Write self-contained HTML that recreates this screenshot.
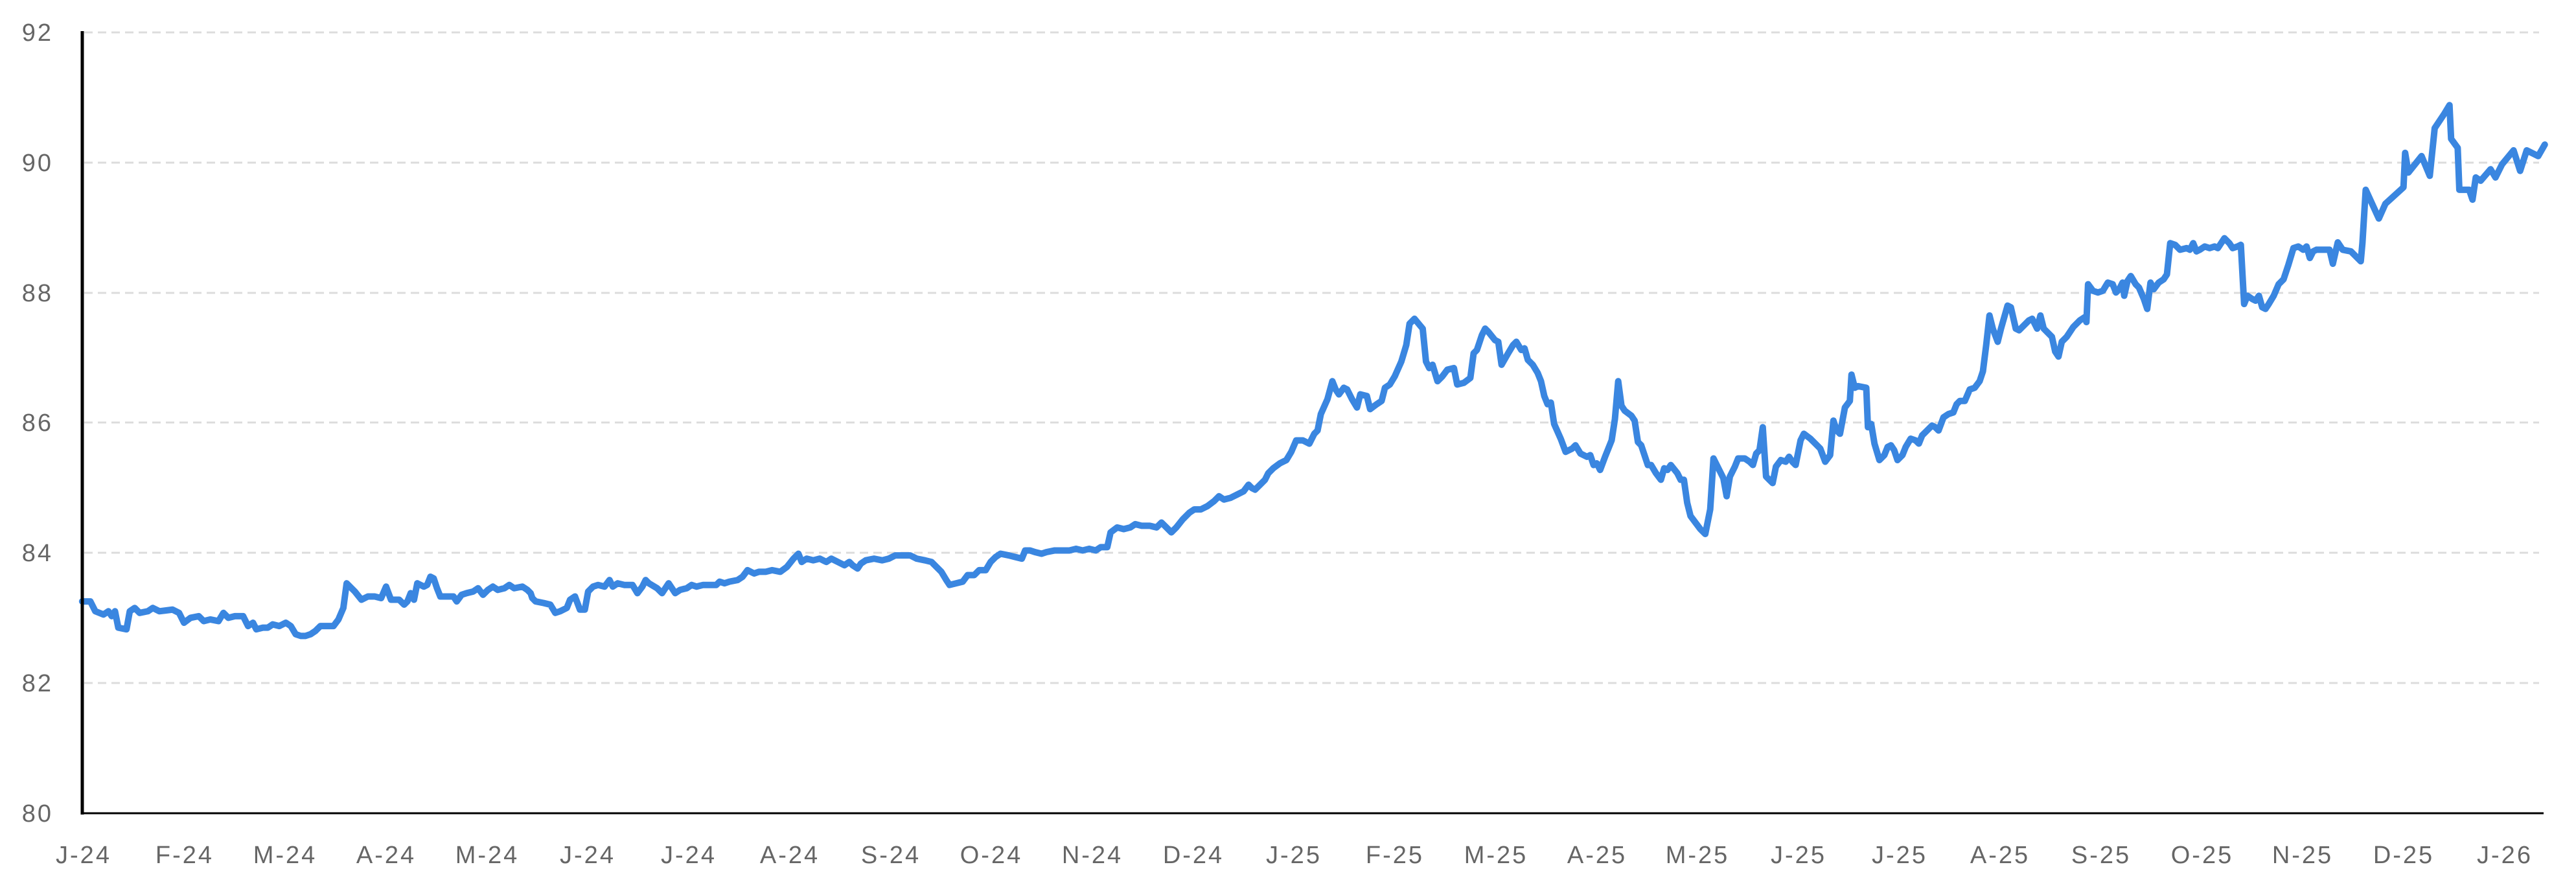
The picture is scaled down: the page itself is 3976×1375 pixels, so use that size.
<!DOCTYPE html>
<html><head><meta charset="utf-8"><style>html,body{margin:0;padding:0;background:#fff}svg{display:block}</style></head>
<body>
<svg width="3976" height="1375" viewBox="0 0 3976 1375" xmlns="http://www.w3.org/2000/svg">
<g stroke="#dcdcdc" stroke-width="3" stroke-dasharray="13 8">
<line x1="130" y1="50" x2="3919" y2="50"/>
<line x1="130" y1="251" x2="3919" y2="251"/>
<line x1="130" y1="452" x2="3919" y2="452"/>
<line x1="130" y1="652" x2="3919" y2="652"/>
<line x1="130" y1="853" x2="3919" y2="853"/>
<line x1="130" y1="1054" x2="3919" y2="1054"/>
</g>
<g font-family="Liberation Sans, sans-serif" font-size="38" fill="#666" text-anchor="end" letter-spacing="3">
<text x="82" y="63">92</text><text x="82" y="264">90</text><text x="82" y="465">88</text><text x="82" y="665">86</text><text x="82" y="866">84</text><text x="82" y="1067">82</text><text x="82" y="1268">80</text>
</g>
<g font-family="Liberation Sans, sans-serif" font-size="38" fill="#666" text-anchor="middle" letter-spacing="3">
<text x="129" y="1332">J-24</text><text x="285" y="1332">F-24</text><text x="440" y="1332">M-24</text><text x="596" y="1332">A-24</text><text x="752" y="1332">M-24</text><text x="907" y="1332">J-24</text><text x="1063" y="1332">J-24</text><text x="1219" y="1332">A-24</text><text x="1375" y="1332">S-24</text><text x="1530" y="1332">O-24</text><text x="1686" y="1332">N-24</text><text x="1842" y="1332">D-24</text><text x="1997" y="1332">J-25</text><text x="2153" y="1332">F-25</text><text x="2309" y="1332">M-25</text><text x="2465" y="1332">A-25</text><text x="2620" y="1332">M-25</text><text x="2776" y="1332">J-25</text><text x="2932" y="1332">J-25</text><text x="3087" y="1332">A-25</text><text x="3243" y="1332">S-25</text><text x="3399" y="1332">O-25</text><text x="3554" y="1332">N-25</text><text x="3710" y="1332">D-25</text><text x="3866" y="1332">J-26</text>
</g>
<g transform="scale(2.5357)">
<polyline fill="none" stroke="#3a86e0" stroke-width="10" vector-effect="non-scaling-stroke" stroke-linejoin="round" stroke-linecap="round" points="50,366 55,366 58,372 63,374 66,372 68,375 70,372 72,382 77,383 79,372 82,370 85,373 90,372 93,370 97,372 105,371 109,373 112,379 116,376 121,375 124,378 128,377 133,378 136,373 139,376 143,375 148,375 151,381 154,379 156,383 160,382 163,382 166,380 170,381 174,379 177,381 180,386 183,387 186,387 189,386 192,384 195,381 199,381 203,381 206,377 209,370 211,355 216,360 220,365 224,363 228,363 232,364 235,357 238,365 243,365 246,368 248,366 250,361 252,365 254,355 258,357 260,356 262,351 264,352 266,358 268,363 272,363 276,363 278,366 281,362 284,361 288,360 291,358 294,362 297,359 300,357 303,359 307,358 310,356 313,358 318,357 321,359 323,361 324,364 326,366 331,367 335,368 338,373 341,372 345,370 347,365 350,363 353,371 356,371 358,360 361,357 364,356 368,357 371,353 373,357 376,355 380,356 385,356 388,361 391,357 393,353 395,355 400,358 403,361 405,358 407,355 409,358 411,361 414,359 418,358 421,356 424,357 428,356 432,356 436,356 438,354 441,355 444,354 449,353 452,351 455,347 459,349 462,348 466,348 470,347 475,348 479,345 483,340 486,337 488,342 491,340 495,341 499,340 503,342 506,340 510,342 514,344 517,342 519,344 522,346 524,343 527,341 532,340 537,341 541,340 545,338 549,338 554,338 558,340 563,341 567,342 570,345 573,348 576,353 578,356 582,355 586,354 589,350 593,350 596,347 600,347 603,342 606,339 609,337 614,338 618,339 622,340 624,335 627,335 630,336 634,337 637,336 642,335 647,335 651,335 655,334 659,335 663,334 667,335 670,333 674,333 676,324 680,321 684,322 688,321 691,319 695,320 700,320 704,321 707,318 710,321 713,324 716,321 720,316 724,312 727,310 731,310 735,308 739,305 742,302 745,304 749,303 753,301 757,299 760,295 762,297 764,298 767,295 770,292 772,288 775,285 779,282 783,280 786,275 789,268 793,268 797,270 800,264 802,262 804,252 808,243 811,232 813,237 815,240 818,236 820,237 823,243 826,248 828,240 832,241 834,249 838,246 841,244 843,236 846,234 849,229 853,220 856,210 858,197 861,194 866,200 868,220 870,224 872,222 875,232 878,229 881,225 885,224 887,234 891,233 895,230 897,215 899,213 902,204 904,200 906,202 910,207 912,208 914,222 918,215 921,210 923,208 926,213 928,212 930,219 933,222 936,227 938,232 940,241 942,246 944,245 946,258 950,267 953,275 957,273 959,271 962,276 966,278 968,277 970,283 972,282 974,286 977,278 979,273 981,268 983,255 985,232 987,247 989,250 993,253 995,256 997,269 999,271 1001,277 1003,283 1005,283 1008,288 1011,292 1013,285 1015,286 1017,283 1021,288 1023,292 1025,292 1027,306 1029,314 1032,318 1035,322 1038,325 1041,310 1043,279 1046,285 1049,291 1051,302 1053,290 1056,284 1058,279 1062,279 1065,281 1067,283 1069,276 1071,274 1073,260 1075,290 1077,292 1079,294 1081,284 1084,280 1087,281 1089,278 1091,281 1093,283 1096,268 1098,264 1102,267 1105,270 1108,273 1111,281 1114,277 1116,256 1118,262 1120,264 1123,248 1126,244 1127,228 1129,236 1131,235 1136,236 1137,260 1139,258 1141,270 1144,280 1147,277 1149,272 1151,271 1153,274 1155,280 1158,277 1160,272 1163,267 1166,268 1168,270 1170,265 1173,262 1176,259 1178,260 1180,262 1183,254 1186,252 1189,251 1191,246 1193,244 1196,244 1199,237 1202,236 1205,232 1207,226 1209,210 1211,192 1213,200 1216,208 1218,200 1220,193 1222,186 1224,187 1227,200 1229,201 1232,198 1235,195 1237,194 1239,198 1240,200 1242,192 1244,200 1246,202 1249,205 1251,214 1253,217 1255,208 1258,205 1262,199 1266,195 1269,193 1270,196 1271,173 1274,177 1277,178 1280,177 1283,172 1286,173 1288,178 1290,176 1292,172 1293,180 1295,171 1297,168 1300,173 1302,175 1305,182 1307,188 1309,172 1311,176 1314,172 1317,170 1319,167 1321,148 1324,149 1327,152 1331,151 1333,152 1335,148 1337,153 1339,152 1342,150 1345,151 1348,150 1350,151 1352,148 1354,145 1357,148 1359,151 1362,150 1364,149 1366,185 1368,180 1371,182 1373,183 1375,180 1377,187 1379,188 1381,185 1384,180 1387,173 1390,170 1393,161 1396,151 1399,150 1402,152 1404,150 1406,157 1408,153 1410,152 1418,152 1420,160.5 1423,147.5 1426,152 1431,153 1437,159 1438,148 1440,115.5 1448,133 1452,124 1463,114 1464,93 1466,105 1474,95 1479,107 1482,78 1488,69 1491,64 1492,84.5 1496,90 1497,115.5 1503,115.5 1505,121.5 1507,108 1510,110 1516,103 1519,108 1523,100 1530,91.5 1534,104 1538,91.5 1545,95 1549,88"/>
</g>
<line x1="127" y1="48" x2="127" y2="1257" stroke="#000" stroke-width="5"/>
<line x1="125" y1="1255" x2="3926" y2="1255" stroke="#000" stroke-width="3"/>
</svg>
</body></html>
